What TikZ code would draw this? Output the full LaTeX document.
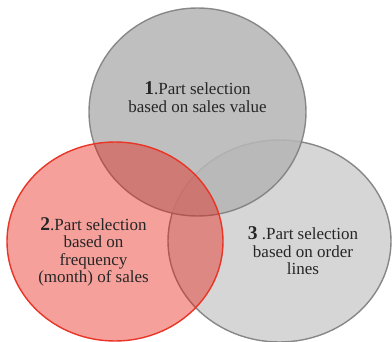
\documentclass[tikz,border=0pt]{standalone}
\usepackage{fontspec}
\setmainfont{Liberation Serif}

\definecolor{grisuno}{RGB}{182,182,182}
\definecolor{bordeuno}{RGB}{125,125,125}
\definecolor{gristres}{RGB}{214,214,214}
\definecolor{bordetres}{RGB}{135,135,135}
\definecolor{rojodos}{RGB}{231,29,14}

\tikzset{
  texto/.style={align=center, font=\rmfamily\fontsize{17}{17.5}\selectfont, text=black!85, inner sep=0pt},
}
\newcommand{\num}[1]{\textbf{\fontsize{19.5}{17.5}\selectfont #1}}

\begin{document}
\begin{tikzpicture}[x=1pt, y=-1pt]
        \useasboundingbox (0,0) rectangle (392,342);

        % Círculo 3 (derecha)
        \draw[line width=1.4pt, draw=bordetres, fill=gristres]
            (279.5,241) ellipse [x radius=111.5pt, y radius=101pt];

        % Círculo 1 (arriba)
        \draw[line width=1.4pt, draw=bordeuno, fill=grisuno, opacity=0.88]
            (197.5,112) ellipse [x radius=108.5pt, y radius=104pt];

        % Círculo 2 (izquierda), rojo transparente
        \fill[rojodos, fill opacity=0.42]
            (115,241.5) ellipse [x radius=108pt, y radius=99.5pt];
        \draw[line width=1.4pt, draw=rojodos!90!white]
            (115,241.5) ellipse [x radius=108pt, y radius=99.5pt];

        % Textos
        \node[texto] (uno) at (197.5,97) {\num{1}.Part selection\\based on sales value};
        \node[texto] (dos) at (93.5,252) {\num{2}.Part selection\\based on\\frequency\\(month) of sales};
        \node[texto] (tres) at (303,251) {\num{3} .Part selection\\based on order\\lines};
\end{tikzpicture}
\end{document}
